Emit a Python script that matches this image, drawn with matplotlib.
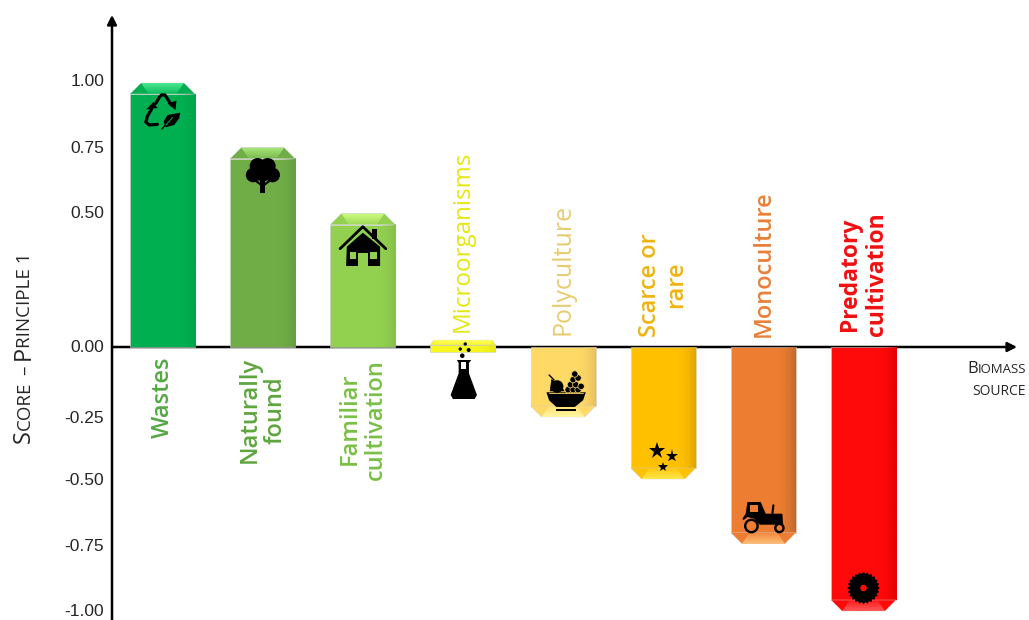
import numpy as np
import matplotlib
matplotlib.use("Agg")
import matplotlib.pyplot as plt
from matplotlib.patches import Polygon, Circle, Rectangle
from matplotlib.transforms import Affine2D, ScaledTranslation

# data
categories = ["Wastes", "Naturally\nfound", "Familiar\ncultivation", "Microorganisms",
              "Polyculture", "Scarce or\nrare", "Monoculture", "Predatory\ncultivation"]
scores = [1.00, 0.755, 0.505, 0.026, -0.265, -0.50, -0.745, -1.00]
bar_base = [0, 0, 0, -0.02, 0, 0, 0, 0]
y_ticks = [1.00, 0.75, 0.50, 0.00, -0.25, -0.50, -0.75, -1.00]
y_ticklabels = ["1.00", "0.75", "0.50", "0.00", "-0.25", "-0.50", "-0.75", "-1.00"]

body_colors = ["#00b050", "#70ad47", "#92d050", "#f7f71e", "#ffd966", "#ffc000", "#ed7d31", "#ff0a0a"]
cap_colors = ["#4ce892", "#a4e676", "#ccfa7c", "#ffff60", "#fff8a4", "#ffe648", "#ffc078", "#ff5a5a"]
edge_colors = ["#00a24a", "#649e3e", "#84c048", "#e8e810", "#e6c060", "#e0a400", "#bf6a2c", "#e00000"]
label_colors = ["#55a844", "#5ea63f", "#79bf45", "#e4e80f", "#e8cc70", "#f0b310", "#e8803a", "#f01010"]
label_weights = ["semibold", "semibold", "semibold", "normal", "normal", "semibold", "semibold", "bold"]
label_sizes = [17, 17, 17, 17.4, 18, 17, 17, 16.5]
label_y = [-0.19, -0.239, -0.273, 0.40, 0.294, 0.235, 0.314, 0.276]
tick_nudge = [3, 2, 3, 1, -4, 0, 0, 1]

W, H = 1029, 620
Y0, YSCALE = 347, 264
X0, XSTEP = 162.5, 100.15
AX_L, AX_R, AX_T = 112, 1017, 15
BAR_W = 65 / XSTEP
BEVEL_X = 11 / XSTEP
BEVEL_Y = 11 / YSCALE
FONT = "Open Sans"

fig = plt.figure(figsize=(W / 100, H / 100), dpi=100)
ax = fig.add_axes([AX_L / W, 0, (AX_R - AX_L) / W, (H - AX_T) / H])
ax.patch.set_alpha(0)
xlim = ((AX_L - X0) / XSTEP, (AX_R - X0) / XSTEP)
ylim = ((Y0 - H) / YSCALE, (Y0 - AX_T) / YSCALE)
x = np.arange(len(categories))

# axes con flecha
arrow = dict(arrowstyle="-|>,head_length=0.55,head_width=0.28", color="black", lw=1.8,
             shrinkA=0, shrinkB=0)
ax.annotate("", xy=(xlim[1], 0), xytext=(xlim[0], 0), arrowprops=arrow, zorder=1)
ax.annotate("", xy=(xlim[0], ylim[1]), xytext=(xlim[0], ylim[0]), arrowprops=arrow, zorder=1)


def draw_bar(i):
    val, base = scores[i], bar_base[i]
    sign = 1 if val > 0 else -1
    by = min(BEVEL_Y, abs(val - base) * 0.4)
    bx = BEVEL_X if i != 3 else BEVEL_X * 0.3
    end = val - sign * by
    l, r = x[i] - BAR_W / 2, x[i] + BAR_W / 2
    ax.bar(x[i], end - base, width=BAR_W, bottom=base, color=body_colors[i],
           edgecolor="#cccccc", linewidth=0.4, zorder=2)
    # sombreado lateral
    shade = np.zeros((1, 40, 4))
    shade[..., :3] = matplotlib.colors.to_rgb(edge_colors[i])
    shade[..., 3] = np.linspace(0, 1, 40) ** 2
    ax.imshow(shade, extent=(x[i] + BAR_W * 0.2, r, base, end), aspect="auto", zorder=2.1)
    # extremo achaflanado con brillo
    ax.add_patch(Polygon([(l, end), (r, end), (r - bx, val), (l + bx, val)], closed=True,
                         facecolor=body_colors[i], edgecolor="#cccccc", linewidth=0.3, zorder=2.2))
    glow = Polygon([(l + bx, val), (r - bx, val), (r - 1.7 * bx, end), (l + 1.7 * bx, end)], closed=True,
                   facecolor="none", edgecolor="none", zorder=2.3)
    ax.add_patch(glow)
    fade = np.zeros((24, 1, 4))
    fade[..., :3] = matplotlib.colors.to_rgb(cap_colors[i])
    fade[..., 3] = np.linspace(1, 0.2, 24).reshape(24, 1)
    # la fila 0 queda en el borde exterior de la barra
    y1, y2 = (end, val) if sign > 0 else (val, end)
    im = ax.imshow(fade, extent=(l, r, y1, y2), origin="upper" if sign > 0 else "lower",
                   aspect="auto", zorder=2.4)
    im.set_clip_path(glow)
    ax.text(x[i], label_y[i], categories[i], rotation=90, ha="center", va="center",
            multialignment="center", color=label_colors[i], fontsize=label_sizes[i], family=FONT,
            fontweight=label_weights[i], linespacing=1.15, zorder=3)


for i in range(len(categories)):
    draw_bar(i)


def icon_tr(i, y_px):
    # coordenadas del icono en pixeles respecto al centro de la barra
    return Affine2D() + ScaledTranslation(x[i], (Y0 - y_px) / YSCALE, ax.transData)


def poly(tr, pts, color="black", z=4):
    ax.add_patch(Polygon(pts, closed=True, facecolor=color, edgecolor="none", transform=tr, zorder=z))


def circ(tr, cx, cy, r, color="black", z=4, **kw):
    ax.add_patch(Circle((cx, cy), r, facecolor=color, transform=tr, zorder=z, **kw))


def rect(tr, x1, y1, x2, y2, color="black", z=4):
    ax.add_patch(Rectangle((x1, y1), x2 - x1, y2 - y1, facecolor=color, edgecolor="none",
                           transform=tr, zorder=z))


def line(tr, xs, ys, lw, color="black", z=4):
    ax.plot(xs, ys, color=color, lw=lw, transform=tr, zorder=z, solid_capstyle="round",
            solid_joinstyle="round")


# reciclaje
tr = icon_tr(0, 110)
line(tr, [-6.7, -3, -1, 2.5, 9], [6.7, 13, 15, 15, 5], 2.3)
poly(tr, [(5, 6.5), (14, 9.5), (13, 0)])
line(tr, [-5, -13.3, -16.7, -15, -11], [-14.3, -15, -12, -6, 0.7], 2.3)
poly(tr, [(-16.5, 0.5), (-5, 2), (-9, 8)])
poly(tr, [(17.7, -2.7), (5, -5), (1, -11.7), (3.3, -17.3), (11.7, -15), (16.7, -8.3)])
line(tr, [-0.5, 9], [-19, -7.5], 1.0)
line(tr, [3.5, 10], [-15, -7.5], 0.7, color=body_colors[0], z=4.1)

# arbol
tr = icon_tr(1, 175)
for cx, cy, r in [(-9.5, 0, 7.3), (10, 0, 7.3), (-5, 9, 8), (5, 9, 8), (0, 2, 8.5)]:
    circ(tr, cx, cy, r, edgecolor="none")
rect(tr, -2.4, -17.5, 2.4, -4)
line(tr, [0, -8], [-11, -5], 1.6)
line(tr, [0, 8], [-11, -5], 1.6)

# casa
tr = icon_tr(2, 246)
line(tr, [-22.7, 0, 23], [-2.7, 19.3, -2.7], 2.0)
rect(tr, 9.3, 6.7, 14, 17.3)
poly(tr, [(-16, -0.7), (0, 13.3), (17.3, -0.7), (17.3, -20), (-16.7, -20)])
for x1, y1, x2, y2 in [(-12.7, -12.7, -6.7, -6), (7.3, -12.7, 14, -6), (-5, -20, 5, -6.7)]:
    rect(tr, x1, y1, x2, y2, color=body_colors[2], z=4.1)

# matraz
tr = icon_tr(3, 380)
for cx, cy, r in [(-0.7, 24.3, 2.3), (5.7, 30, 2), (-2.7, 31, 1.7), (2.3, 36, 1.7)]:
    circ(tr, cx, cy, r, edgecolor="none", z=4)
poly(tr, [(-6, 20), (8.3, 20), (6, 17), (6, 6.7), (14, -15), (11.7, -19), (-10, -19), (-12.3, -15), (-4.3, 6.7), (-4.3, 17)])
rect(tr, -1.7, 10.7, 3.3, 17.7, color="white", z=4.1)

# frutero
tr = icon_tr(4, 393)
poly(tr, [(-16.7, 0.7), (22.7, 0.7), (20, -7.3), (11.7, -14), (-6.7, -14), (-14, -7.3)])
rect(tr, -7.3, -17.7, 13.3, -16)
line(tr, [-14, 20], [0, 0], 0.6, color=body_colors[4], z=4.1)
poly(tr, [(-11.7, 14), (-7, 11), (-1.7, 6.7), (1.7, 1.7), (-13.3, 1.7)])
circ(tr, -6, 6.5, 6.3, edgecolor="none")
line(tr, [-14, -9], [18, 13], 1.0)
for zx, zy in [(445, 180), (460, 180), (475, 180), (452, 165), (468, 165), (484, 170), (460, 150), (475, 145), (465, 133)]:
    circ(tr, (zx - 430) / 3, (190 - zy) / 3, 3.2, edgecolor=body_colors[4], linewidth=0.5)

# estrellas
tr = icon_tr(5, 458)
for sx, sy, ms in [(-6, 6.7, 12.5), (8.3, 1.7, 9.5), (-0.7, -9, 7)]:
    ax.plot([sx], [sy], marker="*", ms=ms, color="black", mew=0, transform=tr, zorder=4)

# tractor
tr = icon_tr(6, 517)
poly(tr, [(-16, 15), (-2.7, 15), (2.3, 3.3), (19, 3.3), (19.7, -7.7), (-3.7, -7.7), (-9, -1.7), (-16, 0), (-20, -3.3), (-21, -1.7), (-17.7, 3.3)])
rect(tr, -13.7, 5, -5, 12.3, color=body_colors[6], z=4.1)
line(tr, [9, 10], [3.3, 11.7], 1.5)
for cx, cy, r in [(-12, -9, 6.2), (16, -11, 4.1)]:
    circ(tr, cx, cy, r, color=body_colors[6], edgecolor="black", linewidth=1.7, z=4.2)

# sierra
tr = icon_tr(7, 588)
ang = np.linspace(0, 2 * np.pi, 49)[:-1]
rad = np.where(np.arange(48) % 2 == 0, 16.2, 14.2)
poly(tr, np.c_[rad * np.cos(ang), rad * np.sin(ang)])
circ(tr, 0, 0, 3.3, color=body_colors[7], edgecolor="none", z=4.1)

ax.set_xlim(xlim)
ax.set_ylim(ylim)
ax.set_xticks([])
ax.set_yticks(y_ticks)
ax.set_yticklabels(y_ticklabels, fontsize=12.5, family="Liberation Sans", color="#262626")
ax.tick_params(axis="y", length=0, pad=5.5)
for lab, dy in zip(ax.get_yticklabels(), tick_nudge):
    lab.set_transform(lab.get_transform() + Affine2D().translate(0, dy))
for s in ax.spines.values():
    s.set_visible(False)


def small_caps(runs, px, py, big, small, rotation=0):
    # texto en versalitas: cada tramo se coloca tras medir el anterior
    renderer = fig.canvas.get_renderer()
    for part, is_big, gap in runs:
        t = fig.text(px / W, (H - py) / H, part, fontsize=big if is_big else small, family=FONT,
                     color="#262626", rotation=rotation, ha="left", va="baseline",
                     rotation_mode="anchor")
        ext = t.get_window_extent(renderer)
        if rotation:
            py -= ext.height + gap
        else:
            px += ext.width + gap


small_caps([("S", True, 0.5), ("CORE", False, 6), ("\u2013", False, 6), ("P", True, -2), ("RINCIPLE 1", False, 0)],
           30, 443, 17, 13.5, rotation=90)
small_caps([("B", True, 0.5), ("IOMASS", False, 0)], 967, 373, 12, 9.5)
small_caps([("SOURCE", False, 0)], 972, 395, 12, 10)

fig.savefig("out.png", dpi=100)
